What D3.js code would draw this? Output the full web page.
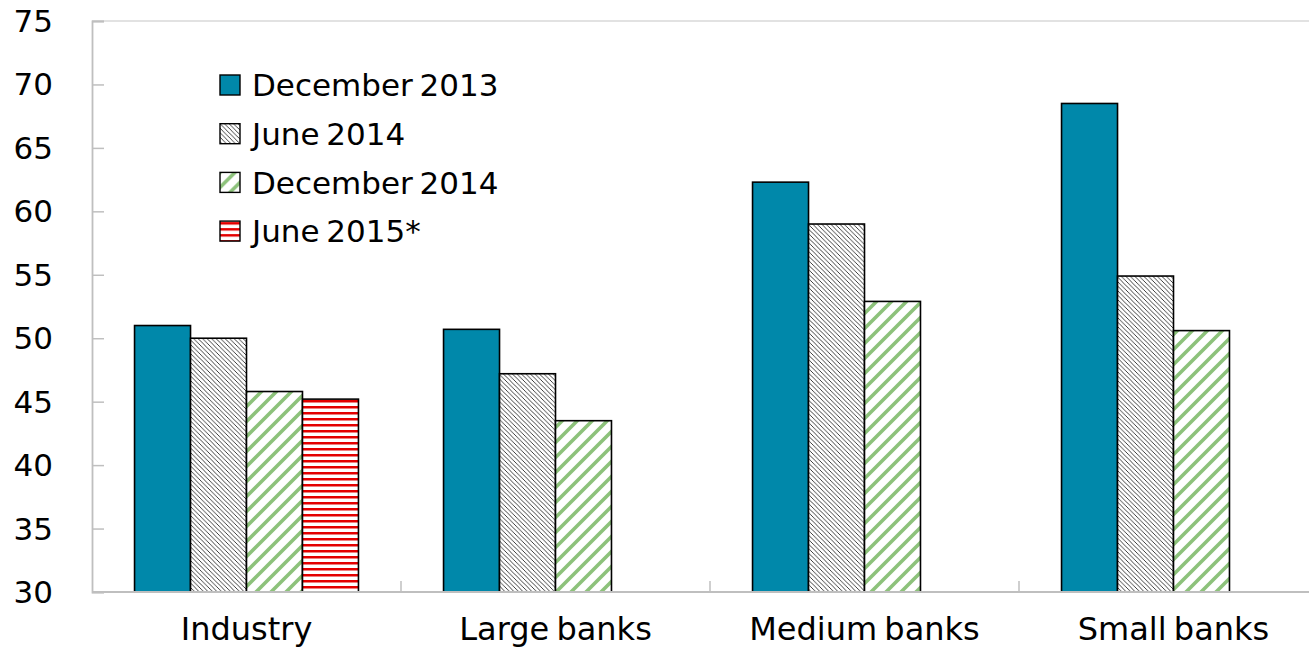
<!DOCTYPE html>
<html>
<head>
<meta charset="utf-8">
<script src="https://cdn.jsdelivr.net/npm/d3@7"></script>
<style>
  html, body { margin: 0; padding: 0; background: #fff; }
  svg { display: block; }
  text { font-family: "DejaVu Sans", Verdana, sans-serif; fill: #000; }
</style>
</head>
<body>
<div id="chart"></div>
<script>
// Categories and series
const categories = ["Industry", "Large banks", "Medium banks", "Small banks"];
const seriesNames = ["December 2013", "June 2014", "December 2014", "June 2015*"];
const dec2013 = [51.0, 50.7, 62.3, 68.5];
const jun2014 = [50.0, 47.2, 59.0, 54.9];
const dec2014 = [45.8, 43.5, 52.9, 50.6];
const jun2015 = [45.2, null, null, null];
const yTicks = [30, 35, 40, 45, 50, 55, 60, 65, 70, 75];

const seriesValues = [dec2013, jun2014, dec2014, jun2015];
const fills = ["#0088AA", "url(#hatchBlack)", "url(#stripeGreen)", "url(#stripeRed)"];

const W = 1309, H = 649;
const margin = { left: 92, top: 21, right: -19, bottom: 57 };
const plotW = W - margin.left - margin.right;
const plotH = H - margin.top - margin.bottom;

const svg = d3.select("#chart").append("svg")
  .attr("width", W).attr("height", H);

// Fill patterns
const defs = svg.append("defs");

const ph = defs.append("pattern").attr("id", "hatchBlack")
  .attr("patternUnits", "userSpaceOnUse").attr("width", 4.5).attr("height", 4.5);
ph.append("rect").attr("width", 4.5).attr("height", 4.5).attr("fill", "#fff");
ph.append("path").attr("d", "M-1,-1 L5.5,5.5 M-1,3.5 L1,5.5 M3.5,-1 L5.5,1")
  .attr("stroke", "#111").attr("stroke-width", 0.8);

const pg = defs.append("pattern").attr("id", "stripeGreen")
  .attr("patternUnits", "userSpaceOnUse").attr("width", 15).attr("height", 15);
pg.append("rect").attr("width", 15).attr("height", 15).attr("fill", "#fff");
pg.append("path").attr("d", "M-3,18 L18,-3 M-3,3 L3,-3 M12,18 L18,12")
  .attr("stroke", "#8DC27B").attr("stroke-width", 3.6);

const pr = defs.append("pattern").attr("id", "stripeRed")
  .attr("patternUnits", "userSpaceOnUse").attr("width", 10).attr("height", 6);
pr.append("rect").attr("width", 10).attr("height", 6).attr("fill", "#fff");
pr.append("rect").attr("y", 1).attr("width", 10).attr("height", 2.5).attr("fill", "#E30000");

const g = svg.append("g").attr("transform", `translate(${margin.left},${margin.top})`);

const x0 = d3.scaleBand().domain(categories).range([0, plotW]).paddingInner(0).paddingOuter(0);
const x1 = d3.scaleBand().domain(seriesNames).range([0, x0.bandwidth()]).paddingOuter(0.76).paddingInner(0);
const y = d3.scaleLinear().domain([30, 75]).range([plotH, 0]);

// Plot frame
g.append("line").attr("x1", 0).attr("x2", plotW).attr("y1", 0).attr("y2", 0)
  .attr("stroke", "#D9D9D9").attr("stroke-width", 1.5);

// Bars
seriesValues.forEach((vals, si) => {
  g.append("g").selectAll("rect")
    .data(categories.map((c, i) => ({ c, v: vals[i] })).filter(d => d.v != null))
    .join("rect")
    .attr("x", d => x0(d.c) + x1(seriesNames[si]))
    .attr("y", d => y(d.v))
    .attr("width", x1.bandwidth())
    .attr("height", d => y(30) - y(d.v))
    .attr("fill", fills[si])
    .attr("stroke", "#000").attr("stroke-width", 1.6);
});

// Y axis
const yAxis = g.append("g").call(d3.axisLeft(y).tickValues(yTicks).tickSize(-12).tickPadding(39));
yAxis.select(".domain").attr("stroke", "#BFBFBF").attr("stroke-width", 1.8);
yAxis.selectAll(".tick line").attr("stroke", "#BFBFBF").attr("stroke-width", 1.5);
yAxis.selectAll(".tick text").style("font-size", "31px").attr("dy", "0.34em")
  .style("font-family", "'DejaVu Sans', Verdana, sans-serif");

// X axis with ticks at category boundaries
const xAxis = g.append("g").attr("transform", `translate(0,${plotH})`);
xAxis.append("line").attr("x1", 0).attr("x2", plotW).attr("y1", 0).attr("y2", 0)
  .attr("stroke", "#BFBFBF").attr("stroke-width", 1.8);
xAxis.selectAll("line.bound").data(categories.slice(1)).join("line").attr("class", "bound")
  .attr("x1", d => x0(d)).attr("x2", d => x0(d)).attr("y1", 0).attr("y2", -11)
  .attr("stroke", "#BFBFBF").attr("stroke-width", 1.5);
xAxis.selectAll("text.cat").data(categories).join("text").attr("class", "cat")
  .attr("x", d => x0(d) + x0.bandwidth() / 2)
  .attr("y", 48)
  .attr("text-anchor", "middle")
  .style("font-size", "32px")
  .style("word-spacing", "-3px")
  .text(d => d);

// Legend
const legend = g.append("g").attr("transform", "translate(128,54)");
seriesNames.forEach((name, i) => {
  const row = legend.append("g").attr("transform", `translate(0,${i * 48.7})`);
  row.append("rect").attr("x", 0).attr("y", 0).attr("width", 20).attr("height", 20)
    .attr("fill", fills[i]).attr("stroke", "#000").attr("stroke-width", 1.4);
  row.append("text").attr("x", 32).attr("y", 10).attr("dy", "0.36em")
    .style("font-size", "31px").style("word-spacing", "-3px").text(name);
});
</script>
</body>
</html>
